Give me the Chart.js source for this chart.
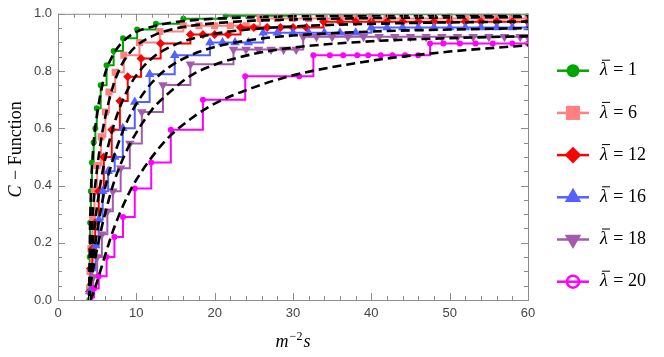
<!DOCTYPE html>
<html>
<head>
<meta charset="utf-8">
<script src="https://cdn.jsdelivr.net/npm/chart.js@4.4.0/dist/chart.umd.min.js"></script>
<style>
  html, body { margin: 0; padding: 0; background: #fff; }
</style>
</head>
<body>
<canvas id="chart" width="664" height="357"></canvas>
<script>
// legend values of lambda bar
const lambdas = ['1', '6', '12', '16', '18', '20'];

// s / m^2 where the dashed curves are sampled
const fitS = [4, 4.05, 4.2, 4.5, 5, 5.5, 6, 7, 8, 9, 10, 12, 14, 17, 20, 25, 30, 40, 50, 60];
const fitL1  = [0, 0.17, 0.37, 0.53, 0.65, 0.73, 0.79, 0.855, 0.895, 0.92, 0.937, 0.955, 0.967, 0.977, 0.983, 0.988, 0.991, 0.994, 0.995, 0.996];
const fitL6  = [0, 0.09, 0.2, 0.33, 0.46, 0.56, 0.635, 0.745, 0.815, 0.858, 0.888, 0.922, 0.942, 0.958, 0.967, 0.976, 0.98, 0.985, 0.987, 0.989];
const fitL12 = [0, 0.05, 0.13, 0.22, 0.33, 0.42, 0.49, 0.6, 0.68, 0.74, 0.785, 0.845, 0.88, 0.912, 0.93, 0.947, 0.956, 0.965, 0.97, 0.973];
const fitL16 = [0, 0.03, 0.08, 0.15, 0.24, 0.32, 0.39, 0.49, 0.57, 0.635, 0.685, 0.76, 0.81, 0.856, 0.884, 0.91, 0.924, 0.938, 0.945, 0.95];
const fitL18 = [0, 0.02, 0.06, 0.11, 0.18, 0.245, 0.3, 0.4, 0.475, 0.535, 0.585, 0.665, 0.72, 0.785, 0.822, 0.86, 0.882, 0.904, 0.915, 0.922];
const fitL20 = [0, 0.0005, 0.006, 0.024, 0.065, 0.11, 0.155, 0.24, 0.31, 0.37, 0.42, 0.5, 0.565, 0.634, 0.686, 0.743, 0.785, 0.836, 0.868, 0.89];

// step data (s, C) for each lambda
const sL1 = [4.0, 4.02, 4.05, 4.1, 4.2, 4.33, 4.55, 4.77, 4.95, 5.45, 6.2, 7.1, 8.3, 10.1, 12.5, 16.0, 21.4, 30, 40, 50, 60];
const cL1 = [0.0, 0.05, 0.15, 0.27, 0.38, 0.48, 0.55, 0.6, 0.67, 0.75, 0.82, 0.87, 0.915, 0.945, 0.965, 0.983, 0.993, 0.998, 0.998, 0.998, 0.998];

const sL6 = [4.02, 4.08, 4.2, 4.4, 4.65, 5.0, 5.5, 6.05, 6.5, 7.3, 8.4, 10.4, 13.0, 16.0, 18.0, 20.0, 22.0, 24.0, 25.8, 28, 30, 32, 34, 36, 38, 40, 42, 44, 46, 48, 50, 52, 54, 56, 58, 60];
const cL6 = [0.04, 0.1, 0.18, 0.29, 0.38, 0.47, 0.57, 0.657, 0.727, 0.796, 0.855, 0.9, 0.938, 0.958, 0.958, 0.958, 0.958, 0.958, 0.984, 0.984, 0.984, 0.984, 0.984, 0.984, 0.984, 0.984, 0.984, 0.984, 0.984, 0.984, 0.984, 0.984, 0.984, 0.984, 0.984, 0.984];

const sL12 = [4.02, 4.15, 4.4, 4.75, 5.2, 5.85, 6.86, 7.9, 8.9, 10.6, 13.1, 16.9, 18.5, 20.0, 21.7, 23.3, 25.0, 26.7, 28.4, 30.0, 31.7, 33.9, 36, 38, 40, 42, 44, 46, 48, 50, 52, 54, 56, 58, 60];
const cL12 = [0.03, 0.11, 0.18, 0.27, 0.38, 0.5, 0.595, 0.695, 0.78, 0.844, 0.896, 0.928, 0.928, 0.928, 0.928, 0.952, 0.952, 0.952, 0.952, 0.952, 0.952, 0.972, 0.972, 0.972, 0.972, 0.972, 0.972, 0.972, 0.972, 0.972, 0.972, 0.972, 0.972, 0.972, 0.972];

const sL16 = [4.05, 4.3, 4.8, 5.2, 5.7, 6.4, 7.24, 8.27, 9.8, 11.7, 14.9, 19.4, 21.0, 22.6, 24.3, 26.2, 28, 30, 32, 34, 36, 38, 40, 42, 44, 46, 48, 50, 52, 54, 56, 58, 60];
const cL16 = [0.03, 0.11, 0.19, 0.28, 0.38, 0.45, 0.5, 0.6, 0.692, 0.789, 0.855, 0.9, 0.9, 0.9, 0.9, 0.934, 0.934, 0.934, 0.934, 0.934, 0.934, 0.934, 0.952, 0.952, 0.952, 0.952, 0.952, 0.952, 0.952, 0.952, 0.952, 0.952, 0.952];

const sL18 = [4.1, 4.5, 5.0, 5.6, 6.3, 7.0, 8.0, 9.17, 10.7, 13.4, 16.9, 22.4, 24.0, 25.6, 27.2, 28.8, 30.4, 31.3, 33, 35, 37, 39, 41, 43, 45, 47, 49, 51, 53, 55, 57, 59, 60];
const cL18 = [0.02, 0.08, 0.15, 0.23, 0.31, 0.38, 0.46, 0.547, 0.657, 0.751, 0.824, 0.875, 0.875, 0.875, 0.875, 0.875, 0.875, 0.92, 0.92, 0.92, 0.92, 0.92, 0.92, 0.92, 0.92, 0.92, 0.92, 0.92, 0.92, 0.92, 0.92, 0.92, 0.92];

const sL20 = [4.2, 4.6, 5.2, 6.2, 7.2, 8.3, 9.8, 11.9, 14.4, 18.5, 23.9, 30.8, 32.6, 34.7, 36.4, 38.2, 39.6, 41.2, 42.7, 44.3, 46.0, 47.5, 49.2, 51.3, 53.3, 55.5, 58.0, 60];
const cL20 = [0.01, 0.04, 0.083, 0.15, 0.22, 0.29, 0.39, 0.48, 0.595, 0.7, 0.782, 0.782, 0.855, 0.855, 0.855, 0.855, 0.855, 0.855, 0.855, 0.855, 0.855, 0.896, 0.896, 0.896, 0.896, 0.896, 0.896, 0.896];

const looks = [
    { s: sL1,  c: cL1,  fit: fitL1,  color: '#00a600', style: 'circle',   r: 3,   rot: 0,   lr: 6.5 },
    { s: sL6,  c: cL6,  fit: fitL6,  color: '#ff8080', style: 'rect',     r: 5,   rot: 0,   lr: 10 },
    { s: sL12, c: cL12, fit: fitL12, color: '#ff0000', style: 'rectRot',  r: 4.5, rot: 0,   lr: 8.3 },
    { s: sL16, c: cL16, fit: fitL16, color: '#5460ff', style: 'triangle', r: 5.5, rot: 0,   lr: 9.5 },
    { s: sL18, c: cL18, fit: fitL18, color: '#a45aac', style: 'triangle', r: 5.5, rot: 180, lr: 9.5 },
    { s: sL20, c: cL20, fit: fitL20, color: '#ff00ff', style: 'circle',   r: 3,   rot: 0,   lr: 6 }
];

const datasets = [];
looks.forEach(function(l, i) {
    datasets.push({
        data: l.s.map((x, k) => ({ x: x, y: l.c[k] })),
        borderColor: l.color,
        backgroundColor: l.color,
        borderWidth: 2,
        stepped: true,
        pointStyle: l.style,
        pointRadius: l.r,
        pointRotation: l.rot,
        pointBorderWidth: 0,
        order: 6 - i
    });
});
looks.forEach(function(l) {
    datasets.push({
        data: fitS.map((x, k) => ({ x: x, y: l.fit[k] })),
        borderColor: '#000',
        borderWidth: 2.6,
        borderDash: [9, 5],
        pointRadius: 0,
        cubicInterpolationMode: 'monotone',
        order: 0
    });
});

const frame = {
    id: 'frame',
    afterDraw(chart) {
        const ctx = chart.ctx;
        const a = chart.chartArea;
        const xs = chart.scales.x, ys = chart.scales.y;

        ctx.save();
        ctx.strokeStyle = '#8c8c8c';
        ctx.lineWidth = 1;
        ctx.strokeRect(a.left + 0.5, a.top + 0.5, a.right - a.left, a.bottom - a.top);
        ctx.beginPath();
        for (let v = 0; v <= 60; v += 2) {
            const px = Math.round(xs.getPixelForValue(v)) + 0.5;
            const len = v % 10 === 0 ? 7 : 4;
            ctx.moveTo(px, a.bottom); ctx.lineTo(px, a.bottom - len);
            ctx.moveTo(px, a.top); ctx.lineTo(px, a.top + len);
        }
        for (let k = 0; k <= 20; k++) {
            const py = Math.round(ys.getPixelForValue(k * 0.05)) + 0.5;
            const len = k % 4 === 0 ? 7 : 4;
            ctx.moveTo(a.left, py); ctx.lineTo(a.left + len, py);
            ctx.moveTo(a.right, py); ctx.lineTo(a.right - len, py);
        }
        ctx.stroke();

        // axis titles
        ctx.fillStyle = '#000';
        ctx.textBaseline = 'alphabetic';
        const it = 'italic 18px "Liberation Serif"', up = '18px "Liberation Serif"';

        ctx.save();
        ctx.translate(21, (a.top + a.bottom) / 2 - 7);
        ctx.rotate(-Math.PI / 2);
        ctx.font = it; const wC = ctx.measureText('C').width;
        ctx.font = up; const wR = ctx.measureText(' \u2212 Function').width;
        let x0 = -(wC + wR) / 2;
        ctx.font = it; ctx.fillText('C', x0, 0);
        ctx.font = up; ctx.fillText(' \u2212 Function', x0 + wC + 1, 0);
        ctx.restore();

        const cx = (a.left + a.right) / 2, by = 347;
        ctx.font = it; const wm = ctx.measureText('m').width, ws = ctx.measureText('s').width;
        ctx.font = '12px "Liberation Serif"'; const we = ctx.measureText('\u22122').width;
        x0 = cx - (wm + we + ws + 2) / 2;
        ctx.font = it; ctx.fillText('m', x0, by);
        ctx.font = '12px "Liberation Serif"'; ctx.fillText('\u22122', x0 + wm + 1, by - 7);
        ctx.font = it; ctx.fillText('s', x0 + wm + we + 2, by);

        // legend
        looks.forEach(function(l, i) {
            const y = 70.7 + i * 42.2;
            ctx.strokeStyle = l.color;
            ctx.fillStyle = l.color;
            ctx.lineWidth = 2.5;
            ctx.beginPath();
            ctx.moveTo(557, y); ctx.lineTo(589, y);
            ctx.stroke();
            if (i === 5) {
                ctx.beginPath();
                ctx.arc(573, y, l.lr, 0, Math.PI * 2);
                ctx.stroke();
            } else {
                Chart.helpers.drawPoint(ctx, { pointStyle: l.style, radius: l.lr, rotation: l.rot, borderWidth: 0 }, 573, y);
            }
            ctx.fillStyle = '#000';
            ctx.strokeStyle = '#000';
            ctx.textBaseline = 'middle';
            ctx.font = it;
            const wl = ctx.measureText('\u03bb').width;
            ctx.fillText('\u03bb', 600, y);
            // bar over lambda
            ctx.lineWidth = 1;
            ctx.beginPath();
            ctx.moveTo(602, y - 10.5); ctx.lineTo(610, y - 10.5);
            ctx.stroke();
            ctx.font = up;
            ctx.fillText(' = ' + lambdas[i], 600 + wl + 1, y);
        });
        ctx.restore();
    }
};

new Chart(document.getElementById('chart'), {
    type: 'line',
    data: { datasets: datasets },
    options: {
        responsive: false,
        animation: false,
        layout: { padding: { left: 0, right: 136, top: 11, bottom: 0 } },
        plugins: { legend: { display: false }, tooltip: { enabled: false } },
        scales: {
            x: {
                type: 'linear', min: 0, max: 60,
                grid: { display: false, drawTicks: false },
                border: { display: false },
                ticks: { stepSize: 10, padding: 6, color: '#444', font: { family: 'Liberation Sans', size: 13 } },
                afterFit: function(scale) { scale.height = 57; }
            },
            y: {
                min: 0, max: 1,
                grid: { display: false, drawTicks: false },
                border: { display: false },
                ticks: { stepSize: 0.2, padding: 6, color: '#444', font: { family: 'Liberation Sans', size: 13 },
                         callback: v => v.toFixed(1) },
                afterFit: function(scale) { scale.width = 58; }
            }
        }
    },
    plugins: [frame]
});
</script>
</body>
</html>
